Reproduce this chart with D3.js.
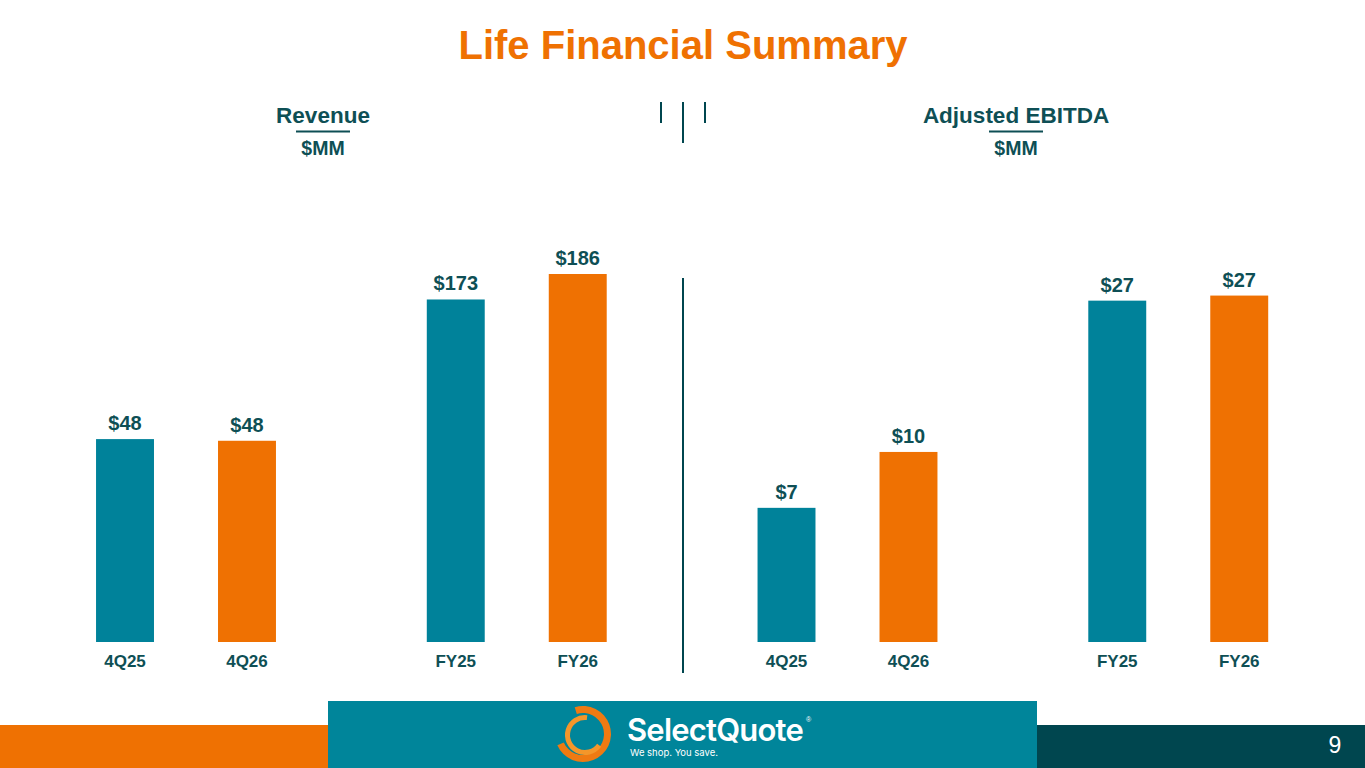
<!DOCTYPE html>
<html>
<head>
<meta charset="utf-8">
<script src="https://cdn.jsdelivr.net/npm/d3@7"></script>
<style>
  html, body { margin: 0; padding: 0; background: #fff; }
  svg { display: block; font-family: "Liberation Sans", Arial, sans-serif; }
</style>
</head>
<body>
<div id="chart"></div>
<script>
// Life Financial Summary - two panels, each with two pairs of bars

// Data
var panels = ['Revenue', 'Adjusted EBITDA'];
var groups = ['rev4Q', 'revFY', 'ebit4Q', 'ebitFY'];
var categories = [['4Q25', '4Q26'], ['FY25', 'FY26'], ['4Q25', '4Q26'], ['FY25', 'FY26']];
var values = [[48.3, 47.9], [173.4, 186.3], [7.2, 10.2], [26.9, 27.3]];
var labels = [['$48', '$48'], ['$173', '$186'], ['$7', '$10'], ['$27', '$27']];
// each pair is drawn on its own scale
var scaleMax = [87.6, 186.3, 19.75, 29.0];

var colors = { prior: '#00829a', current: '#ef7102', text: '#0e4f55', dark: '#00464f', title: '#ef7102' };

var width = 1365, height = 768;
var baseY = 642, plotH = 368;

var svg = d3.select('#chart').append('svg')
  .attr('width', width)
  .attr('height', height);

// Title
svg.append('text')
  .attr('x', 683).attr('y', 59)
  .attr('text-anchor', 'middle')
  .attr('fill', colors.title)
  .attr('font-size', 40)
  .attr('font-weight', 'bold')
  .text('Life Financial Summary');

// Panel headers
var headerX = [323, 1016];
panels.forEach(function(p, i) {
  var g = svg.append('g').attr('transform', 'translate(' + headerX[i] + ',0)');
  g.append('text')
    .attr('y', 123).attr('text-anchor', 'middle')
    .attr('fill', colors.text).attr('font-size', 22.5).attr('font-weight', 'bold')
    .text(p);
  g.append('line')
    .attr('x1', -27).attr('x2', 27).attr('y1', 131.5).attr('y2', 131.5)
    .attr('stroke', colors.text).attr('stroke-width', 2);
  g.append('text')
    .attr('y', 155).attr('text-anchor', 'middle')
    .attr('fill', colors.text).attr('font-size', 19.5).attr('font-weight', 'bold')
    .text('$MM');
});

// little separator marks at top and divider between panels
[[661, 102, 123], [683, 102, 143], [705, 102, 123], [683, 278, 673]].forEach(function(l) {
  svg.append('line')
    .attr('x1', l[0]).attr('x2', l[0]).attr('y1', l[1]).attr('y2', l[2])
    .attr('stroke', colors.dark).attr('stroke-width', 2);
});

// Scales
var outer = d3.scaleBand().domain(groups).range([20.6, 20.6 + 330.75 * 4]);
var inner = d3.scaleBand().domain([0, 1]).range([11.4, 319.4]).padding(0.525);

groups.forEach(function(grp, gi) {
  var y = d3.scaleLinear().domain([0, scaleMax[gi]]).range([baseY, baseY - plotH]);
  var g = svg.append('g')
    .attr('transform', 'translate(' + outer(grp) + ',0)');

  var bars = g.selectAll('g.bar')
    .data(values[gi].map(function(v, i) { return { v: v, i: i }; }))
    .enter().append('g').attr('class', 'bar');

  bars.append('rect')
    .attr('x', function(d) { return inner(d.i); })
    .attr('width', inner.bandwidth())
    .attr('y', function(d) { return y(d.v); })
    .attr('height', function(d) { return baseY - y(d.v); })
    .attr('fill', function(d) { return d.i === 0 ? colors.prior : colors.current; });

  bars.append('text')
    .attr('x', function(d) { return inner(d.i) + inner.bandwidth() / 2; })
    .attr('y', function(d) { return y(d.v) - 9; })
    .attr('text-anchor', 'middle')
    .attr('fill', colors.text).attr('font-size', 20).attr('font-weight', 'bold')
    .text(function(d) { return labels[gi][d.i]; });

  bars.append('text')
    .attr('x', function(d) { return inner(d.i) + inner.bandwidth() / 2; })
    .attr('y', 667)
    .attr('text-anchor', 'middle')
    .attr('fill', colors.text).attr('font-size', 17).attr('font-weight', 'bold')
    .text(function(d) { return categories[gi][d.i]; });
});

// Footer
svg.append('rect').attr('x', 0).attr('y', 725).attr('width', 330).attr('height', 43).attr('fill', colors.current);
svg.append('rect').attr('x', 1035).attr('y', 725).attr('width', 330).attr('height', 43).attr('fill', colors.dark);
svg.append('rect').attr('x', 328).attr('y', 701).attr('width', 709).attr('height', 67).attr('fill', '#00859a');

svg.append('text')
  .attr('x', 1335).attr('y', 753).attr('text-anchor', 'middle')
  .attr('fill', '#fff').attr('font-size', 23)
  .text('9');

// Logo swirl
var arc = d3.arc();
var logo = svg.append('g').attr('transform', 'translate(583,734)');
logo.append('path')
  .attr('d', arc({ innerRadius: 21, outerRadius: 28, startAngle: -0.3, endAngle: 4.3 }))
  .attr('fill', '#ef7a12');
logo.append('path')
  .attr('transform', 'translate(2,1)')
  .attr('d', arc({ innerRadius: 15, outerRadius: 20, startAngle: 2.2, endAngle: 6.4 }))
  .attr('fill', '#f4962a');

svg.append('text')
  .attr('x', 627).attr('y', 741)
  .attr('fill', '#fff').attr('font-size', 31).attr('font-weight', 600)
  .attr('font-family', 'Inter, "Liberation Sans", sans-serif')
  .attr('letter-spacing', -0.8)
  .text('SelectQuote');
svg.append('text')
  .attr('x', 806).attr('y', 722)
  .attr('fill', '#fff').attr('font-size', 7)
  .text('®');
svg.append('text')
  .attr('x', 630).attr('y', 756)
  .attr('fill', '#fff').attr('font-size', 9.5)
  .attr('font-family', 'Inter, "Liberation Sans", sans-serif')
  .text('We shop. You save.');
</script>
</body>
</html>
